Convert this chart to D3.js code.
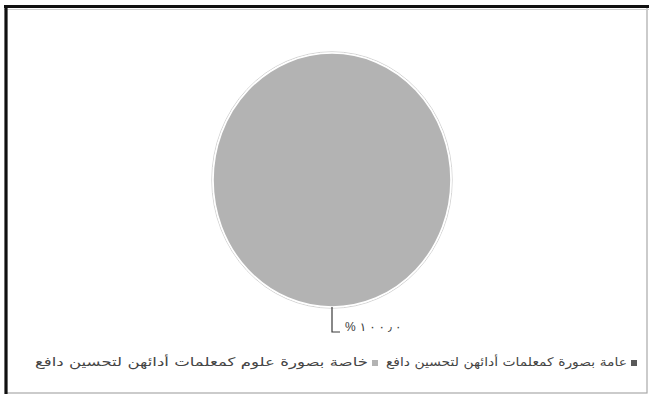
<!DOCTYPE html>
<html>
<head>
<meta charset="utf-8">
<script src="https://cdn.jsdelivr.net/npm/d3@7"></script>
<style>
  html, body { margin: 0; padding: 0; background: #fff; overflow: hidden; }
  svg { display: block; }
</style>
</head>
<body>
<svg id="chart" width="649" height="396"></svg>
<script>
// Pie categories (legend order, first to last)
const categories = [
  "دافع لتحسين أدائهن كمعلمات بصورة عامة",
  "دافع لتحسين أدائهن كمعلمات علوم بصورة خاصة"
];
// Share of responses, percent
const values = [0, 100];
const sliceColors = ["#595959", "#b3b3b3"];

const W = 649, H = 396;
const svg = d3.select("#chart");
const FONT = "'Liberation Sans', 'DejaVu Sans', Arial, sans-serif";

// chart frame
svg.append("rect").attr("x", 0).attr("y", 0).attr("width", W).attr("height", H).attr("fill", "#fff");
svg.append("rect")
  .attr("x", 6.5).attr("y", 6.5).attr("width", 640.5).attr("height", 386.5)
  .attr("fill", "#fff").attr("stroke", "#a8a8a8").attr("stroke-width", 1.2);
svg.append("line").attr("x1", 4).attr("x2", W).attr("y1", 6.5).attr("y2", 6.5)
  .attr("stroke", "#111").attr("stroke-width", 3.2);
svg.append("line").attr("x1", 4).attr("x2", W).attr("y1", 9.5).attr("y2", 9.5)
  .attr("stroke", "#d0d0d0").attr("stroke-width", 1);
svg.append("line").attr("x1", 6).attr("x2", 6).attr("y1", 5).attr("y2", 394)
  .attr("stroke", "#111").attr("stroke-width", 3.2);

// pie, drawn on a unit circle and stretched to the plot ellipse
const cx = 332, cy = 180, rx = 119, ry = 127;
const pie = d3.pie().sort(null).startAngle(0).endAngle(2 * Math.PI);
const arcs = pie(values);
const arc = d3.arc().innerRadius(0).outerRadius(1);

const pieG = svg.append("g").attr("transform", `translate(${cx},${cy}) scale(${rx},${ry})`);
pieG.append("ellipse").attr("rx", 1 + 1.2 / rx).attr("ry", 1 + 1.2 / ry)
  .attr("fill", "none").attr("stroke", "#d4d4d4").attr("stroke-width", 1)
  .attr("vector-effect", "non-scaling-stroke");
pieG.selectAll("path.slice")
  .data(arcs)
  .join("path")
  .attr("class", "slice")
  .attr("d", arc)
  .attr("fill", (d, i) => sliceColors[i])
  .attr("stroke", "#fff")
  .attr("stroke-width", 1.6)
  .attr("vector-effect", "non-scaling-stroke");

// data labels with leader lines (only non-empty slices)
const arabicDigits = "٠١٢٣٤٥٦٧٨٩";
function toArabic(v) {
  return d3.format(".1f")(v).replace(/[0-9]/g, c => arabicDigits[+c]).replace(".", "٫");
}
arcs.forEach((d, i) => {
  if (d.value <= 0) return;
  const mid = (d.startAngle + d.endAngle) / 2;
  const px = cx + rx * Math.sin(mid);
  const py = cy - ry * Math.cos(mid);
  const ly = py + 25;
  svg.append("path")
    .attr("d", d3.line()([[px, py], [px, ly], [px + 8, ly]]))
    .attr("fill", "none").attr("stroke", "#3a3a3a").attr("stroke-width", 1.2);
  // each character of the label set on its own, left to right
  const chars = Array.from("%" + toArabic(d.value));
  const lg = svg.append("g");
  let x = px + 13;
  chars.forEach((c, k) => {
    const t = lg.append("text")
      .attr("x", x).attr("y", ly - 1)
      .attr("font-family", FONT).attr("font-size", 12).attr("fill", "#3a3a3a")
      .text(c);
    x += t.node().getComputedTextLength() + (k === 0 ? 4 : 3);
  });
});

// legend: entries run right to left, marker to the right of its text;
// words of each entry are set one by one, left to right, then stretched to the entry width
const legendY = 364;
const legendSpans = [
  { x1: 386, x2: 627 },   // first category
  { x1: 35, x2: 368 }     // second category
];
const legendFontSize = 12;
categories.forEach((name, i) => {
  const s = legendSpans[i];
  svg.append("rect")
    .attr("x", s.x2 + 4).attr("y", legendY - 4).attr("width", 6).attr("height", 6)
    .attr("fill", sliceColors[i]);
  const g = svg.append("g").attr("class", "legend-entry");
  const words = name.split(" ");
  const nodes = words.map(w => g.append("text")
    .attr("y", legendY + 2.5)
    .attr("font-family", FONT).attr("font-size", legendFontSize).attr("fill", "#444")
    .text(w));
  const widths = nodes.map(n => n.node().getComputedTextLength());
  const space = legendFontSize * 0.32;
  const natural = d3.sum(widths) + space * (words.length - 1);
  const sx = (s.x2 - s.x1) / natural;
  let x = 0;
  nodes.forEach((n, k) => { n.attr("x", x); x += widths[k] + space; });
  g.attr("transform", `translate(${s.x1},0) scale(${sx},1)`);
});
</script>
</body>
</html>
